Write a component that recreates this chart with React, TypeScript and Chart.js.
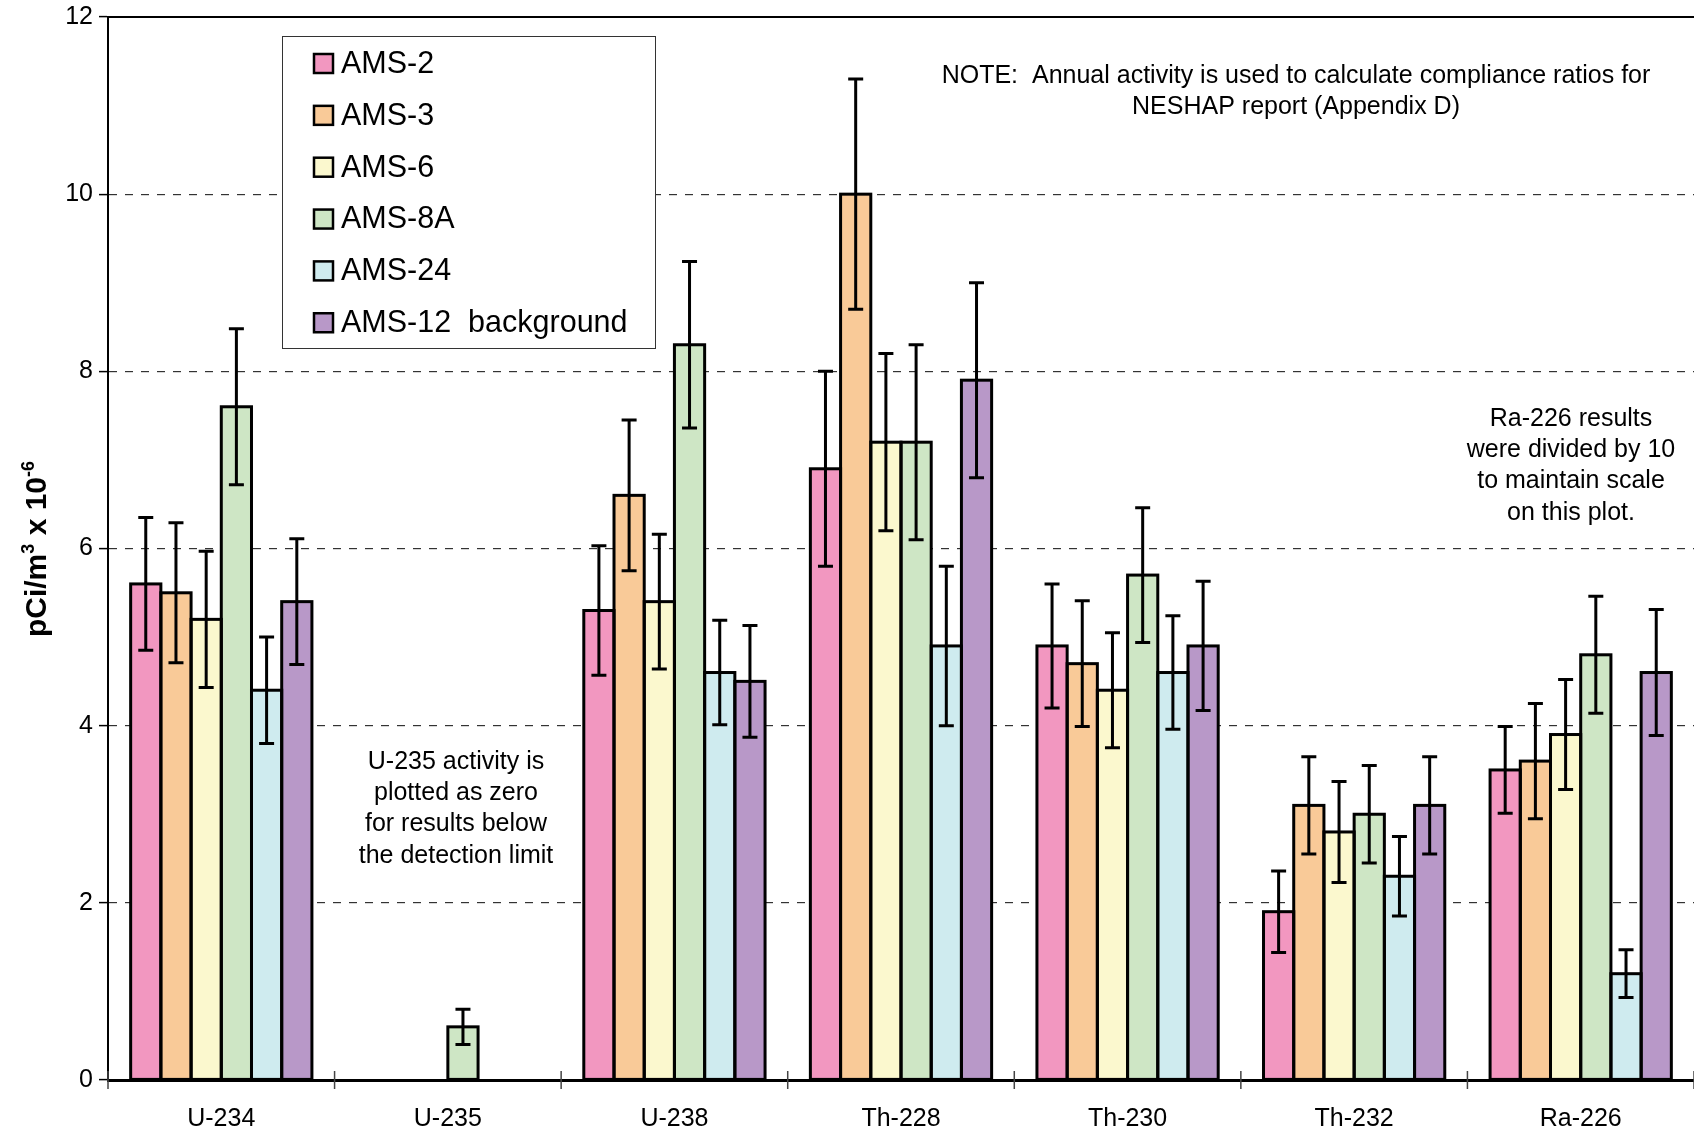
import React, { useEffect, useRef } from "react";
import { Chart, registerables } from "chart.js";

Chart.register(...registerables);

const FONT = '"Liberation Sans", Arial, Helvetica, sans-serif';

// ---------- data ----------
const categories = ["U-234", "U-235", "U-238", "Th-228", "Th-230", "Th-232", "Ra-226"];
const seriesNames = ["AMS-2", "AMS-3", "AMS-6", "AMS-8A", "AMS-24", "AMS-12  background"];
const seriesColors = ["#F297C0", "#F9CA98", "#FBF8CE", "#CEE6C5", "#CFEBEF", "#B898C8"];

const ams2 = [5.6, 0, 5.3, 6.9, 4.9, 1.9, 3.5];
const ams3 = [5.5, 0, 6.6, 10.0, 4.7, 3.1, 3.6];
const ams6 = [5.2, 0, 5.4, 7.2, 4.4, 2.8, 3.9];
const ams8a = [7.6, 0.6, 8.3, 7.2, 5.7, 3.0, 4.8];
const ams24 = [4.4, 0, 4.6, 4.9, 4.6, 2.3, 1.2];
const ams12 = [5.4, 0, 4.5, 7.9, 4.9, 3.1, 4.6];

const ams2Err = [0.75, 0, 0.73, 1.1, 0.7, 0.46, 0.49];
const ams3Err = [0.79, 0, 0.85, 1.3, 0.71, 0.55, 0.65];
const ams6Err = [0.77, 0, 0.76, 1.0, 0.65, 0.57, 0.62];
const ams8aErr = [0.88, 0.2, 0.94, 1.1, 0.76, 0.55, 0.66];
const ams24Err = [0.6, 0, 0.59, 0.9, 0.64, 0.45, 0.27];
const ams12Err = [0.71, 0, 0.63, 1.1, 0.73, 0.55, 0.71];

const seriesValues = [ams2, ams3, ams6, ams8a, ams24, ams12];
const seriesErrors = [ams2Err, ams3Err, ams6Err, ams8aErr, ams24Err, ams12Err];

const yTicks = [0, 2, 4, 6, 8, 10, 12];

const noteLines = [
  "NOTE:  Annual activity is used to calculate compliance ratios for",
  "NESHAP report (Appendix D)",
];
const raLines = ["Ra-226 results", "were divided by 10", "to maintain scale", "on this plot."];
const u235Lines = ["U-235 activity is", "plotted as zero", "for results below", "the detection limit"];

// ---------- layout constants (pixels) ----------
const W = 1694;
const H = 1134;
const LEGEND_BOX = { x: 282, y: 36, w: 373, h: 312 };
const LEGEND_ROW0 = 63.5;
const LEGEND_STEP = 51.85;

const overlayPlugin = {
  id: "overlay",
  afterDatasetsDraw(chart: any) {
    const ctx = chart.ctx;
    const y = chart.scales.y;
    ctx.save();
    ctx.strokeStyle = "#000";
    ctx.lineWidth = 3;
    ctx.lineJoin = "miter";
    chart.data.datasets.forEach((ds: any, i: number) => {
      const meta = chart.getDatasetMeta(i);
      meta.data.forEach((bar: any, j: number) => {
        if (!ds.data[j]) return;
        const p = bar.getProps(["x", "y", "base", "width"], true);
        ctx.strokeRect(p.x - p.width / 2, p.y, p.width, p.base - p.y);
      });
    });
    ctx.lineWidth = 3;
    chart.data.datasets.forEach((ds: any, i: number) => {
      const meta = chart.getDatasetMeta(i);
      const errs = seriesErrors[i];
      meta.data.forEach((bar: any, j: number) => {
        const e = errs[j];
        if (!e) return;
        const v = ds.data[j];
        const top = y.getPixelForValue(v + e);
        const bot = y.getPixelForValue(v - e);
        const cx = bar.x;
        const cap = 7.5;
        ctx.beginPath();
        ctx.moveTo(cx, top);
        ctx.lineTo(cx, bot);
        ctx.moveTo(cx - cap, top);
        ctx.lineTo(cx + cap, top);
        ctx.moveTo(cx - cap, bot);
        ctx.lineTo(cx + cap, bot);
        ctx.stroke();
      });
    });
    ctx.restore();
  },
  afterDraw(chart: any) {
    const ctx = chart.ctx;
    const area = chart.chartArea;
    const x = chart.scales.x;

    ctx.save();
    ctx.strokeStyle = "#000";
    ctx.lineWidth = 2;
    ctx.beginPath();
    ctx.moveTo(area.left - 1, area.top);
    ctx.lineTo(area.right, area.top);
    ctx.stroke();

    ctx.strokeStyle = "#444";
    ctx.lineWidth = 1.5;
    const n = categories.length;
    for (let i = 0; i <= n; i++) {
      const px = x.left + (i * (x.right - x.left)) / n;
      ctx.beginPath();
      ctx.moveTo(px, area.bottom - 9);
      ctx.lineTo(px, area.bottom + 9);
      ctx.stroke();
    }

    ctx.fillStyle = "#fff";
    ctx.fillRect(LEGEND_BOX.x, LEGEND_BOX.y, LEGEND_BOX.w, LEGEND_BOX.h);
    ctx.strokeStyle = "#333";
    ctx.lineWidth = 1;
    ctx.strokeRect(LEGEND_BOX.x + 0.5, LEGEND_BOX.y + 0.5, LEGEND_BOX.w, LEGEND_BOX.h);
    ctx.font = `30.5px ${FONT}`;
    ctx.textBaseline = "middle";
    ctx.textAlign = "left";
    chart.data.datasets.forEach((ds: any, i: number) => {
      const cy = LEGEND_ROW0 + i * LEGEND_STEP;
      ctx.fillStyle = ds.backgroundColor;
      ctx.fillRect(314, cy - 9.5, 19, 19);
      ctx.strokeStyle = "#000";
      ctx.lineWidth = 2.5;
      ctx.strokeRect(314, cy - 9.5, 19, 19);
      ctx.fillStyle = "#000";
      ctx.fillText(ds.label, 341, cy + 1);
    });

    ctx.fillStyle = "#000";
    ctx.textAlign = "center";
    ctx.textBaseline = "middle";
    ctx.font = `25px ${FONT}`;
    noteLines.forEach((t, i) => ctx.fillText(t, 1296, 76 + i * 31));
    raLines.forEach((t, i) => ctx.fillText(t, 1571, 419 + i * 31.3));
    u235Lines.forEach((t, i) => ctx.fillText(t, 456, 762 + i * 31.3));

    const parts = [
      { t: "pCi/m", sup: false },
      { t: "3", sup: true },
      { t: " x 10", sup: false },
      { t: "-6", sup: true },
    ];
    const bigFont = `bold 30px ${FONT}`;
    const supFont = `bold 18px ${FONT}`;
    let total = 0;
    parts.forEach((p) => {
      ctx.font = p.sup ? supFont : bigFont;
      total += ctx.measureText(p.t).width;
    });
    ctx.translate(35, 549);
    ctx.rotate(-Math.PI / 2);
    ctx.textAlign = "left";
    ctx.textBaseline = "alphabetic";
    let cx = -total / 2;
    parts.forEach((p) => {
      ctx.font = p.sup ? supFont : bigFont;
      ctx.fillText(p.t, cx, p.sup ? -1 : 11);
      cx += ctx.measureText(p.t).width;
    });
    ctx.restore();
  },
};

export default function App() {
  const canvasRef = useRef<HTMLCanvasElement | null>(null);

  useEffect(() => {
    if (!canvasRef.current) return;
    const chart = new Chart(canvasRef.current, {
      type: "bar",
      data: {
        labels: categories,
        datasets: seriesNames.map((name, i) => ({
          label: name,
          data: seriesValues[i],
          backgroundColor: seriesColors[i],
          borderWidth: 0,
          categoryPercentage: 0.8,
          barPercentage: 1.0,
        })),
      },
      options: {
        animation: false,
        responsive: true,
        maintainAspectRatio: false,
        layout: { padding: { top: 17, right: 0, left: 0, bottom: 0 } },
        plugins: {
          legend: { display: false },
          tooltip: { enabled: false },
          title: { display: false },
        },
        scales: {
          x: {
            grid: { display: false },
            border: { display: true, color: "#000", width: 3 },
            ticks: {
              font: { family: FONT, size: 25 },
              color: "#000",
              padding: 16,
              maxRotation: 0,
              autoSkip: false,
            },
            afterFit: (s: any) => {
              s.height = 54;
              s.paddingLeft = 0;
              s.paddingRight = 0;
            },
          },
          y: {
            min: 0,
            max: 12,
            afterBuildTicks: (s: any) => {
              s.ticks = yTicks.map((v) => ({ value: v }));
            },
            grid: {
              color: (c: any) =>
                c.tick && (c.tick.value === 0 || c.tick.value === 12) ? "rgba(0,0,0,0)" : "#333",
              lineWidth: 1.2,
              tickColor: "#000",
              tickLength: 9,
              tickWidth: 1.5,
            },
            border: { display: true, color: "#000", width: 2, dash: [8, 8] },
            ticks: {
              font: { family: FONT, size: 25 },
              color: "#000",
              padding: 6,
            },
            afterFit: (s: any) => {
              s.width = 108;
              s.paddingTop = 0;
              s.paddingBottom = 0;
            },
          },
        },
      },
      plugins: [overlayPlugin],
    });
    return () => chart.destroy();
  }, []);

  return (
    <div style={{ position: "absolute", left: 0, top: 0, width: W, height: H, background: "#fff" }}>
      <canvas ref={canvasRef} />
    </div>
  );
}
